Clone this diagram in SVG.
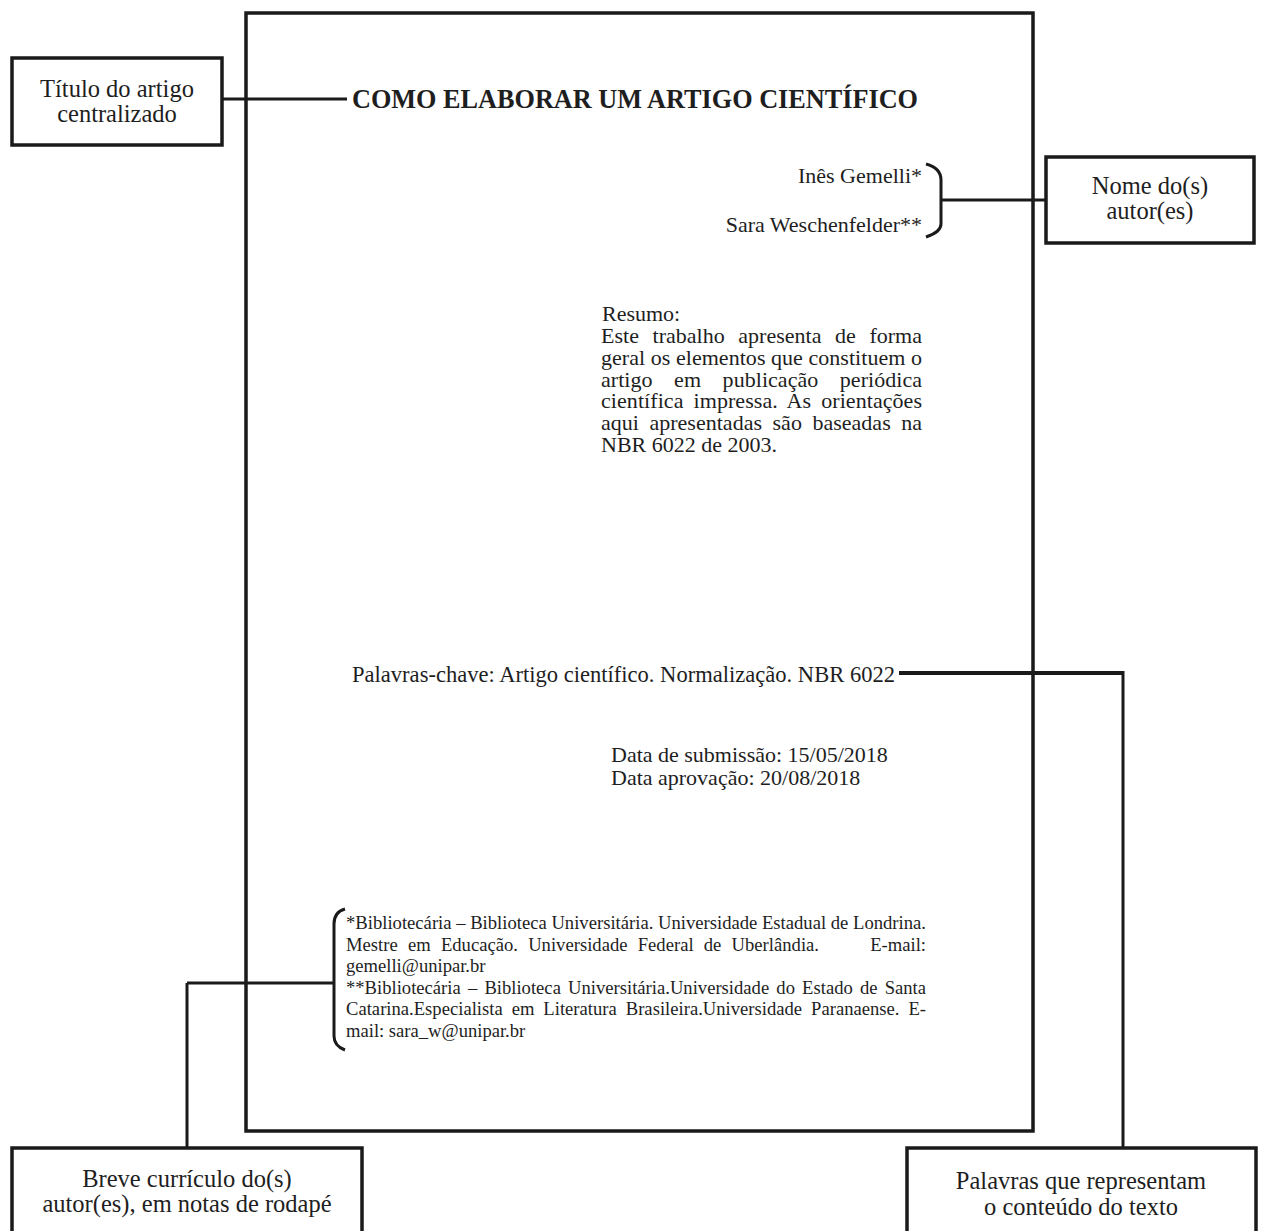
<svg xmlns="http://www.w3.org/2000/svg" width="1263" height="1231" viewBox="0 0 1263 1231">
<style>
text{font-family:"Liberation Serif","Times New Roman",serif;fill:#1e1e1e}
.box{fill:#fff;stroke:#1a1a1a;stroke-width:3.5}
.ln{fill:none;stroke:#1a1a1a;stroke-width:3}
.lbl{font-size:24.5px;text-anchor:middle}
.body{font-size:22px}
.fn{font-size:18.6px}
</style>
<rect width="1263" height="1231" fill="#fff"/>
<g id="page">
<rect x="246" y="13" width="787" height="1118" fill="none" stroke="#1a1a1a" stroke-width="3.5"/>
<text x="352" y="108" font-size="26.5" font-weight="bold" textLength="566" lengthAdjust="spacingAndGlyphs">COMO ELABORAR UM ARTIGO CIENTÍFICO</text>
<text class="body" x="922" y="183" text-anchor="end">Inês Gemelli*</text>
<text class="body" x="922" y="232" text-anchor="end">Sara Weschenfelder**</text>
<text class="body" x="602" y="321">Resumo:</text>
<text class="body" x="601" y="343" word-spacing="8" textLength="321" lengthAdjust="spacing">Este trabalho apresenta de forma</text>
<text class="body" x="601" y="365" textLength="321" lengthAdjust="spacing">geral os elementos que constituem o</text>
<text class="body" x="601" y="387" word-spacing="16" textLength="321" lengthAdjust="spacing">artigo em publicação periódica</text>
<text class="body" x="601" y="408" word-spacing="4.5" textLength="321" lengthAdjust="spacing">científica impressa. As orientações</text>
<text class="body" x="601" y="430" word-spacing="5" textLength="321" lengthAdjust="spacing">aqui apresentadas são baseadas na</text>
<text class="body" x="601" y="452">NBR 6022 de 2003.</text>
<text x="352" y="682" font-size="22.4" textLength="543" lengthAdjust="spacingAndGlyphs">Palavras-chave: Artigo científico. Normalização. NBR 6022</text>
<text x="611" y="762" font-size="22">Data de submissão: 15/05/2018</text>
<text x="611" y="785" font-size="22">Data aprovação: 20/08/2018</text>
<text class="fn" x="346" y="929" textLength="580" lengthAdjust="spacingAndGlyphs">*Bibliotecária – Biblioteca Universitária. Universidade Estadual de Londrina.</text>
<text class="fn" x="346" y="950.5" word-spacing="5.5" textLength="473" lengthAdjust="spacing">Mestre em Educação. Universidade Federal de Uberlândia.</text>
<text class="fn" x="926" y="950.5" text-anchor="end">E-mail:</text>
<text class="fn" x="346" y="972">gemelli@unipar.br</text>
<text class="fn" x="346" y="993.5" word-spacing="2.5" textLength="580" lengthAdjust="spacing">**Bibliotecária – Biblioteca Universitária.Universidade do Estado de Santa</text>
<text class="fn" x="346" y="1015" word-spacing="4.3" textLength="580" lengthAdjust="spacing">Catarina.Especialista em Literatura Brasileira.Universidade Paranaense. E-</text>
<text class="fn" x="346" y="1036.5">mail: sara_w@unipar.br</text>
</g>
<g id="box-titulo">
<rect class="box" x="12" y="58" width="210" height="87"/>
<text class="lbl" x="117" y="97">Título do artigo</text>
<text class="lbl" x="117" y="122">centralizado</text>
</g>
<g id="box-nome">
<rect class="box" x="1046" y="157" width="208" height="86"/>
<text class="lbl" x="1150" y="194">Nome do(s)</text>
<text class="lbl" x="1150" y="219">autor(es)</text>
</g>
<g id="box-curriculo">
<rect class="box" x="12" y="1148" width="350" height="100"/>
<text class="lbl" x="187" y="1187">Breve currículo do(s)</text>
<text class="lbl" x="187" y="1212">autor(es), em notas de rodapé</text>
</g>
<g id="box-palavras">
<rect class="box" x="907" y="1148" width="349" height="100"/>
<text class="lbl" x="1081" y="1189">Palavras que representam</text>
<text class="lbl" x="1081" y="1215">o conteúdo do texto</text>
</g>
<g id="connectors">
<line class="ln" x1="222" y1="99" x2="347" y2="99"/>
<path class="ln" d="M926,164 Q941,168 941,180 L941,224 Q941,232 926,237"/>
<line class="ln" x1="941" y1="200" x2="1046" y2="200"/>
<line x1="899" y1="673" x2="1123" y2="673" stroke="#1a1a1a" stroke-width="4"/>
<line class="ln" x1="1123" y1="671" x2="1123" y2="1148"/>
<path class="ln" d="M345,909 Q334,912 334,924 L334,1036 Q334,1046 345,1050"/>
<line class="ln" x1="187" y1="983" x2="334" y2="983"/>
<line class="ln" x1="187" y1="983" x2="187" y2="1148"/>
</g>
</svg>
